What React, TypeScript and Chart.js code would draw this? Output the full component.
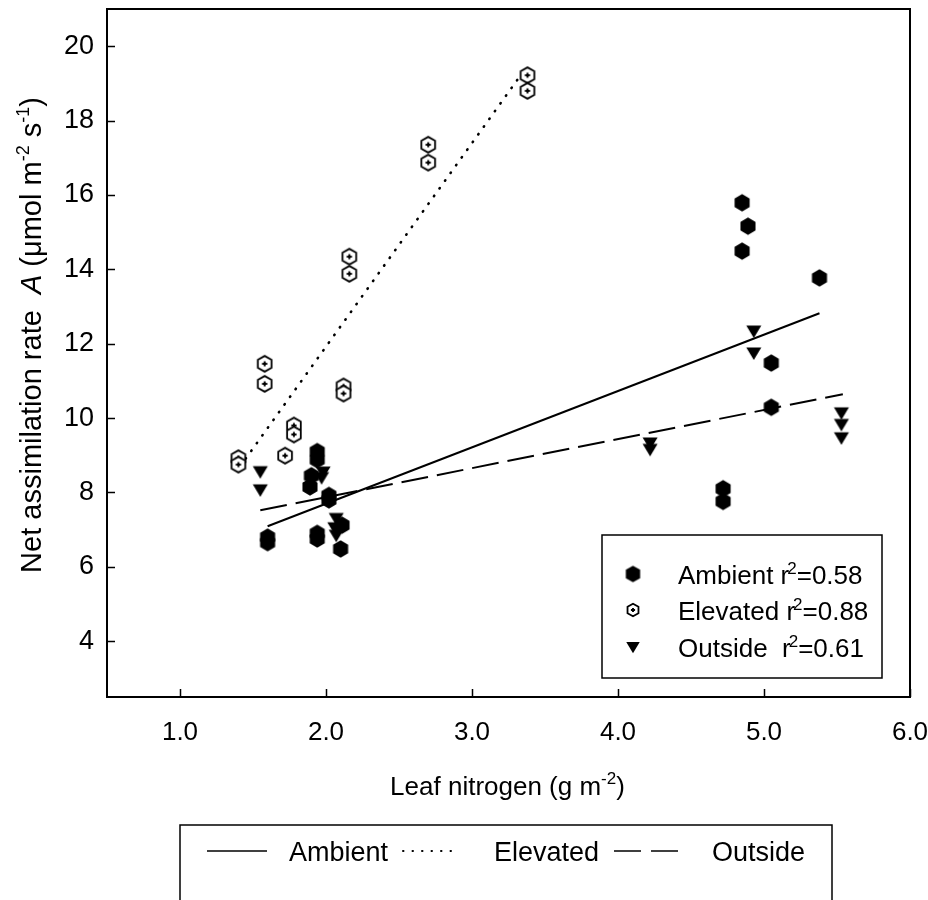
import React, { useEffect, useRef } from 'react';
import { Chart, registerables } from 'chart.js';

Chart.register(...registerables);

const FONT = '"Liberation Sans", Arial, Helvetica, sans-serif';

// Leaf nitrogen (g m-2) and net assimilation rate (µmol m-2 s-1) per treatment
const ambientN = [1.60, 1.60, 1.94, 1.94, 1.90, 1.89, 2.02, 2.02, 1.94, 1.94, 2.11, 2.10, 4.72, 4.72, 4.85, 4.89, 4.85, 5.38, 5.05, 5.05];
const ambientA = [6.80, 6.65, 9.10, 8.88, 8.45, 8.15, 7.92, 7.80, 6.90, 6.75, 7.12, 6.48, 8.10, 7.76, 15.79, 15.16, 14.49, 13.77, 11.48, 10.29];

const elevatedN = [1.40, 1.40, 1.58, 1.58, 1.72, 1.78, 1.78, 2.12, 2.12, 2.16, 2.16, 2.70, 2.70, 3.38, 3.38];
const elevatedA = [8.92, 8.75, 11.46, 10.92, 8.99, 9.80, 9.56, 10.85, 10.66, 14.34, 13.88, 17.35, 16.87, 19.22, 18.80];

const outsideN = [1.55, 1.55, 1.98, 1.97, 2.07, 2.06, 2.07, 4.22, 4.22, 4.93, 4.93, 5.53, 5.53, 5.53];
const outsideA = [8.56, 8.07, 8.55, 8.40, 7.30, 7.05, 6.85, 9.33, 9.16, 12.34, 11.75, 10.14, 9.83, 9.47];

// Linear regression end points for each treatment
const ambientFitN = [1.60, 5.38];
const ambientFitA = [7.09, 12.82];
const elevatedFitN = [1.45, 3.37];
const elevatedFitA = [8.91, 19.42];
const outsideFitN = [1.55, 5.54];
const outsideFitA = [7.52, 10.64];

const xTicks = [1, 2, 3, 4, 5, 6];
const yTicks = [4, 6, 8, 10, 12, 14, 16, 18, 20];

const seriesLabels = ['Ambient', 'Elevated', 'Outside'];
const r2Labels = ['0.58', '0.88', '0.61'];

const pairs = (xs: number[], ys: number[]) => xs.map((x, i) => ({ x, y: ys[i] }));

function hexPath(ctx: CanvasRenderingContext2D, cx: number, cy: number, r: number) {
  ctx.beginPath();
  for (let i = 0; i < 6; i++) {
    const a = -Math.PI / 2 + (i * Math.PI) / 3;
    const px = cx + r * Math.cos(a);
    const py = cy + r * Math.sin(a);
    if (i === 0) ctx.moveTo(px, py);
    else ctx.lineTo(px, py);
  }
  ctx.closePath();
}

function makeMarker(kind: 'hexFilled' | 'hexPlus' | 'triangle', scale = 1): HTMLCanvasElement {
  const c = document.createElement('canvas');
  const size = Math.round(20 * scale);
  c.width = size;
  c.height = size;
  const ctx = c.getContext('2d')!;
  const cx = size / 2;
  const cy = size / 2;
  ctx.fillStyle = '#000';
  ctx.strokeStyle = '#000';
  if (kind === 'hexFilled') {
    hexPath(ctx, cx, cy, 8.7 * scale);
    ctx.fill();
  } else if (kind === 'hexPlus') {
    hexPath(ctx, cx, cy, 7.9 * scale);
    ctx.fillStyle = '#fff';
    ctx.fill();
    ctx.lineWidth = 1.8;
    ctx.stroke();
    ctx.lineWidth = 1.9;
    const p = 2.6 * scale;
    ctx.beginPath();
    ctx.moveTo(cx - p, cy);
    ctx.lineTo(cx + p, cy);
    ctx.moveTo(cx, cy - p);
    ctx.lineTo(cx, cy + p);
    ctx.stroke();
  } else {
    ctx.beginPath();
    ctx.moveTo(cx - 7.5 * scale, cy - 5.5 * scale);
    ctx.lineTo(cx + 7.5 * scale, cy - 5.5 * scale);
    ctx.lineTo(cx, cy + 7 * scale);
    ctx.closePath();
    ctx.fill();
  }
  return c;
}

type Seg = { t: string; size: number; italic?: boolean; rise?: number; dx?: number };

function segFont(s: Seg) {
  return `${s.italic ? 'italic ' : ''}${s.size}px ${FONT}`;
}

function richWidth(ctx: CanvasRenderingContext2D, segs: Seg[]) {
  let w = 0;
  for (const s of segs) {
    ctx.font = segFont(s);
    w += ctx.measureText(s.t).width + (s.dx || 0);
  }
  return w;
}

function drawRich(ctx: CanvasRenderingContext2D, segs: Seg[], x: number, y: number) {
  let cx = x;
  for (const s of segs) {
    ctx.font = segFont(s);
    cx += s.dx || 0;
    ctx.fillText(s.t, cx, y - (s.rise || 0));
    cx += ctx.measureText(s.t).width;
  }
}

export default function App() {
  const ref = useRef<HTMLCanvasElement | null>(null);

  useEffect(() => {
    const canvas = ref.current;
    if (!canvas) return;

    const hexFilled = makeMarker('hexFilled');
    const hexPlus = makeMarker('hexPlus');
    const tri = makeMarker('triangle');
    const legendMarkers = [makeMarker('hexFilled', 0.95), makeMarker('hexPlus', 0.8), makeMarker('triangle', 0.9)];

    const decorations = {
      id: 'decorations',
      afterDraw(chart: any) {
        const ctx: CanvasRenderingContext2D = chart.ctx;
        const { left, right, top, bottom } = chart.chartArea;
        const xs = chart.scales.x;
        const ys = chart.scales.y;
        ctx.save();
        ctx.strokeStyle = '#000';
        ctx.fillStyle = '#000';

        // frame and inward tick marks
        ctx.lineWidth = 2;
        ctx.strokeRect(left, top, right - left, bottom - top);
        ctx.lineWidth = 1.5;
        ctx.beginPath();
        for (const v of xTicks) {
          const px = Math.round(xs.getPixelForValue(v)) + 0.5;
          ctx.moveTo(px, bottom);
          ctx.lineTo(px, bottom - 8);
        }
        for (const v of yTicks) {
          const py = Math.round(ys.getPixelForValue(v)) + 0.5;
          ctx.moveTo(left, py);
          ctx.lineTo(left + 8, py);
        }
        ctx.stroke();

        ctx.textBaseline = 'alphabetic';
        ctx.textAlign = 'left';

        // x-axis title
        const xTitle: Seg[] = [
          { t: 'Leaf nitrogen (g m', size: 26 },
          { t: '-2', size: 17, rise: 11 },
          { t: ')', size: 26 },
        ];
        const xw = richWidth(ctx, xTitle);
        drawRich(ctx, xTitle, (left + right) / 2 - xw / 2 - 1, 795);

        // y-axis title
        const yTitle: Seg[] = [
          { t: 'Net assimilation rate  ', size: 29 },
          { t: 'A', size: 29, italic: true },
          { t: ' (\u03bcmol m', size: 29 },
          { t: '-2', size: 18, rise: 12 },
          { t: ' s', size: 29 },
          { t: '-1', size: 18, rise: 12 },
          { t: ')', size: 29 },
        ];
        const yw = richWidth(ctx, yTitle);
        ctx.save();
        ctx.translate(41, 335);
        ctx.rotate(-Math.PI / 2);
        drawRich(ctx, yTitle, -yw / 2, 0);
        ctx.restore();

        // legend inside the plot: markers with r² values
        ctx.lineWidth = 1.5;
        ctx.strokeRect(602, 535, 280, 143);
        const rowY = [574, 610, 647];
        seriesLabels.forEach((name, i) => {
          const m = legendMarkers[i];
          ctx.drawImage(m, 633 - m.width / 2, rowY[i] - m.height / 2);
          const segs: Seg[] = [
            { t: name + (i === 2 ? '  r' : ' r'), size: 26 },
            { t: '2', size: 17, rise: 10, dx: -2 },
            { t: '=' + r2Labels[i], size: 26 },
          ];
          drawRich(ctx, segs, 678, rowY[i] + 10);
        });

        // legend below the plot: regression line styles
        ctx.lineWidth = 1.5;
        ctx.strokeRect(180, 825, 652, 100);
        const lineY = 851;
        const samples = [
          { x0: 207, x1: 267, dash: [] as number[], cap: 'butt', w: 1.5, tx: 289 },
          { x0: 403, x1: 458, dash: [0.5, 9], cap: 'round', w: 2, tx: 494 },
          { x0: 614, x1: 678, dash: [27, 10], cap: 'butt', w: 1.5, tx: 712 },
        ];
        samples.forEach((s, i) => {
          ctx.save();
          ctx.setLineDash(s.dash);
          ctx.lineCap = s.cap as CanvasLineCap;
          ctx.lineWidth = s.w;
          ctx.beginPath();
          ctx.moveTo(s.x0, lineY);
          ctx.lineTo(s.x1, lineY);
          ctx.stroke();
          ctx.restore();
          ctx.font = `27px ${FONT}`;
          ctx.fillText(seriesLabels[i], s.tx, lineY + 10);
        });

        ctx.restore();
      },
    };

    const chart = new Chart(canvas, {
      type: 'scatter',
      data: {
        datasets: [
          {
            label: 'Ambient fit',
            data: pairs(ambientFitN, ambientFitA),
            showLine: true,
            borderColor: '#000',
            borderWidth: 2,
            pointRadius: 0,
            order: 5,
          },
          {
            label: 'Elevated fit',
            data: pairs(elevatedFitN, elevatedFitA),
            showLine: true,
            borderColor: '#000',
            borderWidth: 2.6,
            borderDash: [0.5, 9],
            borderCapStyle: 'round',
            pointRadius: 0,
            order: 5,
          },
          {
            label: 'Outside fit',
            data: pairs(outsideFitN, outsideFitA),
            showLine: true,
            borderColor: '#000',
            borderWidth: 2,
            borderDash: [27, 9],
            pointRadius: 0,
            order: 5,
          },
          {
            label: 'Ambient',
            data: pairs(ambientN, ambientA),
            pointStyle: hexFilled,
            pointRadius: 8,
            order: 1,
          },
          {
            label: 'Elevated',
            data: pairs(elevatedN, elevatedA),
            pointStyle: hexPlus,
            pointRadius: 8,
            order: 1,
          },
          {
            label: 'Outside',
            data: pairs(outsideN, outsideA),
            pointStyle: tri,
            pointRadius: 8,
            order: 1,
          },
        ],
      } as any,
      options: {
        animation: false,
        responsive: false,
        devicePixelRatio: 1,
        layout: { padding: { left: 0, right: 18, top: 8, bottom: 0 } },
        plugins: {
          legend: { display: false },
          tooltip: { enabled: false },
        },
        scales: {
          x: {
            type: 'linear',
            min: 0.5,
            max: 6.0,
            grid: { display: false },
            border: { display: false },
            afterBuildTicks: (s: any) => {
              s.ticks = xTicks.map((v) => ({ value: v }));
            },
            afterFit: (s: any) => {
              s.height = 203;
              s.paddingLeft = 0;
              s.paddingRight = 0;
            },
            ticks: {
              color: '#000',
              font: { family: FONT, size: 26 },
              padding: 12,
              maxRotation: 0,
              autoSkip: false,
              callback: (v: any) => Number(v).toFixed(1),
            },
          },
          y: {
            type: 'linear',
            min: 2.5,
            max: 21,
            grid: { display: false },
            border: { display: false },
            afterBuildTicks: (s: any) => {
              s.ticks = yTicks.map((v) => ({ value: v }));
            },
            afterFit: (s: any) => {
              s.width = 107;
              s.paddingTop = 0;
              s.paddingBottom = 0;
            },
            ticks: {
              color: '#000',
              font: { family: FONT, size: 27 },
              padding: 5,
              autoSkip: false,
              callback: (v: any) => String(v),
            },
          },
        },
      } as any,
      plugins: [decorations],
    });

    return () => chart.destroy();
  }, []);

  return (
    <div style={{ position: 'fixed', left: 0, top: 0, width: 928, height: 900, background: '#fff' }}>
      <canvas ref={ref} width={928} height={900} style={{ display: 'block' }} />
    </div>
  );
}
